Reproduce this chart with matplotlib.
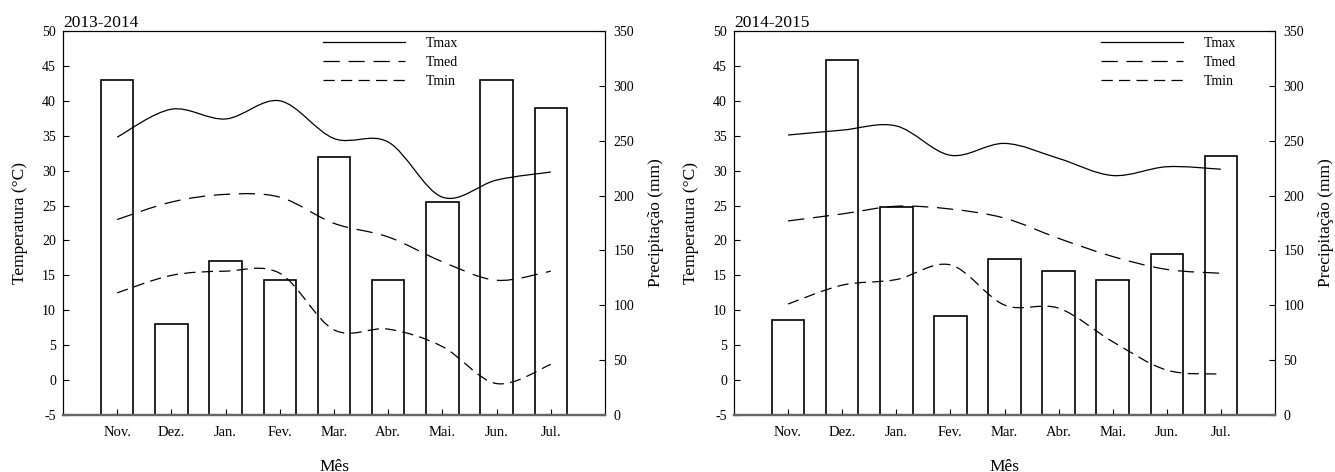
import numpy as np
import matplotlib
matplotlib.use("Agg")
import matplotlib.pyplot as plt
from matplotlib.path import Path
from matplotlib.patches import PathPatch
from matplotlib.lines import Line2D

plt.rcParams['font.family'] = ['Liberation Serif', 'DejaVu Serif']
plt.rcParams['axes.unicode_minus'] = False

months = ["Nov.", "Dez.", "Jan.", "Fev.", "Mar.", "Abr.", "Mai.", "Jun.", "Jul."]

# 2013-2014
title_a = "2013-2014"
prec_a = [305, 83, 140, 123, 235, 123, 194, 305, 280]
tmax_a = [34.8, 38.8, 37.4, 40.0, 34.6, 34.1, 26.2, 28.65, 29.8]
tmed_a = [23.0, 25.5, 26.6, 26.2, 22.45, 20.5, 16.95, 14.3, 15.6]
tmin_a = [12.5, 15.0, 15.6, 15.3, 7.2, 7.3, 4.8, -0.5, 2.25]

# 2014-2015
title_b = "2014-2015"
prec_b = [87, 324, 190, 90, 142, 131, 123, 147, 236]
tmax_b = [35.1, 35.8, 36.4, 32.2, 33.9, 31.75, 29.3, 30.56, 30.2]
tmed_b = [22.8, 23.8, 24.9, 24.5, 23.2, 20.3, 17.7, 15.85, 15.3]
tmin_b = [10.9, 13.6, 14.4, 16.5, 10.75, 10.3, 5.5, 1.43, 0.86]

STY_MAX = '-'
STY_MED = (0, (13, 7))
STY_MIN = (0, (9, 5))


def smooth_path(x, y):
    """Catmull-Rom curve through the points, as cubic Bezier path."""
    p = np.column_stack([x, y]).astype(float)
    n = len(p)
    verts = [p[0]]
    codes = [Path.MOVETO]
    for i in range(n - 1):
        p0 = p[i - 1] if i > 0 else p[i]
        p1 = p[i]
        p2 = p[i + 1]
        p3 = p[i + 2] if i + 2 < n else p[i + 1]
        c1 = p1 + (p2 - p0) / 6.0
        c2 = p2 - (p3 - p1) / 6.0
        verts += [c1, c2, p2]
        codes += [Path.CURVE4] * 3
    return Path(verts, codes)


def panel(rect, title, prec, tmax, tmed, tmin, leg_x):
    ax = fig.add_axes(rect)
    ax2 = ax.twinx()
    x = np.arange(1, len(months) + 1)
    ax2.bar(x, prec, width=0.6, facecolor='white', edgecolor='black',
            linewidth=1.2, zorder=2)
    ax2.set_ylim(0, 350)
    ax2.set_yticks(np.arange(0, 351, 50))
    ax.set_zorder(ax2.get_zorder() + 1)
    ax.patch.set_visible(False)

    for vals, ls in ((tmax, STY_MAX), (tmed, STY_MED), (tmin, STY_MIN)):
        pp = PathPatch(smooth_path(x, vals), fill=False, edgecolor='black',
                       linewidth=0.9, linestyle=ls)
        ax.add_patch(pp)

    ax.set_xlim(0, 10)
    ax.set_ylim(-5, 50)
    ax.set_yticks(np.arange(-5, 51, 5))
    ax.set_xticks(x)
    ax.set_xticklabels(months, fontsize=10.5)
    ax.tick_params(axis='x', direction='in', length=4, pad=8, width=0.8)
    ax.tick_params(axis='y', direction='in', length=4, pad=5, labelsize=10, width=0.8)
    ax2.tick_params(axis='y', direction='in', length=4, pad=6, labelsize=10, width=0.8)
    for a in (ax, ax2):
        for s in a.spines.values():
            s.set_linewidth(0.8)
        a.spines['bottom'].set_color('#666666')
        a.spines['bottom'].set_linewidth(1.6)

    ax.set_ylabel("Temperatura (°C)", fontsize=12.5, labelpad=10)
    ax2.set_ylabel("Precipitação (mm)", fontsize=12.5, labelpad=10)
    ax.set_xlabel("Mês", fontsize=12.5, labelpad=14)
    ax.set_title(title, loc='left', fontsize=12.5, pad=1)

    handles = [Line2D([], [], color='black', lw=0.9, ls=STY_MAX),
               Line2D([], [], color='black', lw=0.9, ls=STY_MED),
               Line2D([], [], color='black', lw=0.9, ls=STY_MIN)]
    ax.legend(handles, ["Tmax", "Tmed", "Tmin"], loc='upper left',
              bbox_to_anchor=(leg_x, 0.985), frameon=False, fontsize=10,
              handlelength=5.9, handletextpad=1.5, labelspacing=0.45,
              borderpad=0, borderaxespad=0)


fig = plt.figure(figsize=(13.35, 4.72), dpi=100)
panel([63 / 1335, 57 / 472, 542 / 1335, 384 / 472], title_a,
      prec_a, tmax_a, tmed_a, tmin_a, 0.48)
panel([734 / 1335, 57 / 472, 541 / 1335, 384 / 472], title_b,
      prec_b, tmax_b, tmed_b, tmin_b, 0.678)

fig.savefig("out.png", dpi=100)
